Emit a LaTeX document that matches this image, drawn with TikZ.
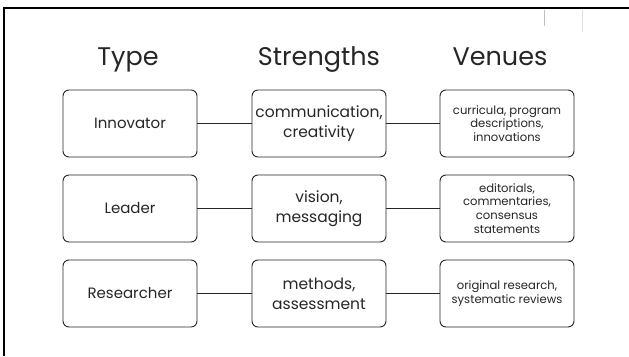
\documentclass[tikz,border=0pt]{standalone}
\usepackage{fontspec}
\setmainfont{Poppins}
\begin{document}
\begin{tikzpicture}[x=1pt,y=-1pt,
  cell/.style={draw=black!85, line width=0.9pt, rounded corners=6pt, minimum width=134pt, minimum height=67pt, inner sep=2pt, align=center, text=black!85},
  typebox/.style={cell, font=\fontsize{15}{18}\selectfont},
  strbox/.style={cell, font=\fontsize{15.5}{20}\selectfont},
  venbox/.style={cell, font=\fontsize{11.6}{13.8}\selectfont},
  head/.style={font=\fontsize{25.5}{30}\selectfont, text=black!85, anchor=base},
  link/.style={draw=black!85, line width=0.9pt}]
\useasboundingbox (0,0) rectangle (629,356);
\fill[white] (0,0) rectangle (629,356);
% frame
\draw[line width=2.4pt, black] (4,356) -- (4,8.2) -- (629,8.2);
\draw[black!25, line width=0.8pt] (544,10) -- (544,26);
\draw[black!12, line width=0.8pt] (582,10) -- (582,32);
% headers
\node[head] (h1) at (128,65) {Type};
\node[head] (h2) at (319,65) {Strengths};
\node[head] (h3) at (500,65) {Venues};
% row 1
\node[typebox] (t1) at (130,123.5) {Innovator};
\node[strbox]  (s1) at (319,123.5) {communication,\\creativity};
\node[venbox]  (v1) at (507,123.5) {curricula, program\\descriptions,\\innovations};
% row 2
\node[typebox] (t2) at (130,208.5) {Leader};
\node[strbox]  (s2) at (319,208.5) {vision,\\messaging};
\node[venbox]  (v2) at (507,208.5) {editorials,\\commentaries,\\consensus\\statements};
% row 3
\node[typebox] (t3) at (130,293.5) {Researcher};
\node[strbox]  (s3) at (319,293.5) {methods,\\assessment};
\node[venbox]  (v3) at (507,293.5) {original research,\\systematic reviews};
% connectors
\foreach \i in {1,2,3}{
  \draw[link] (t\i.east) -- (s\i.west);
  \draw[link] (s\i.east) -- (v\i.west);
}
\end{tikzpicture}
\end{document}
